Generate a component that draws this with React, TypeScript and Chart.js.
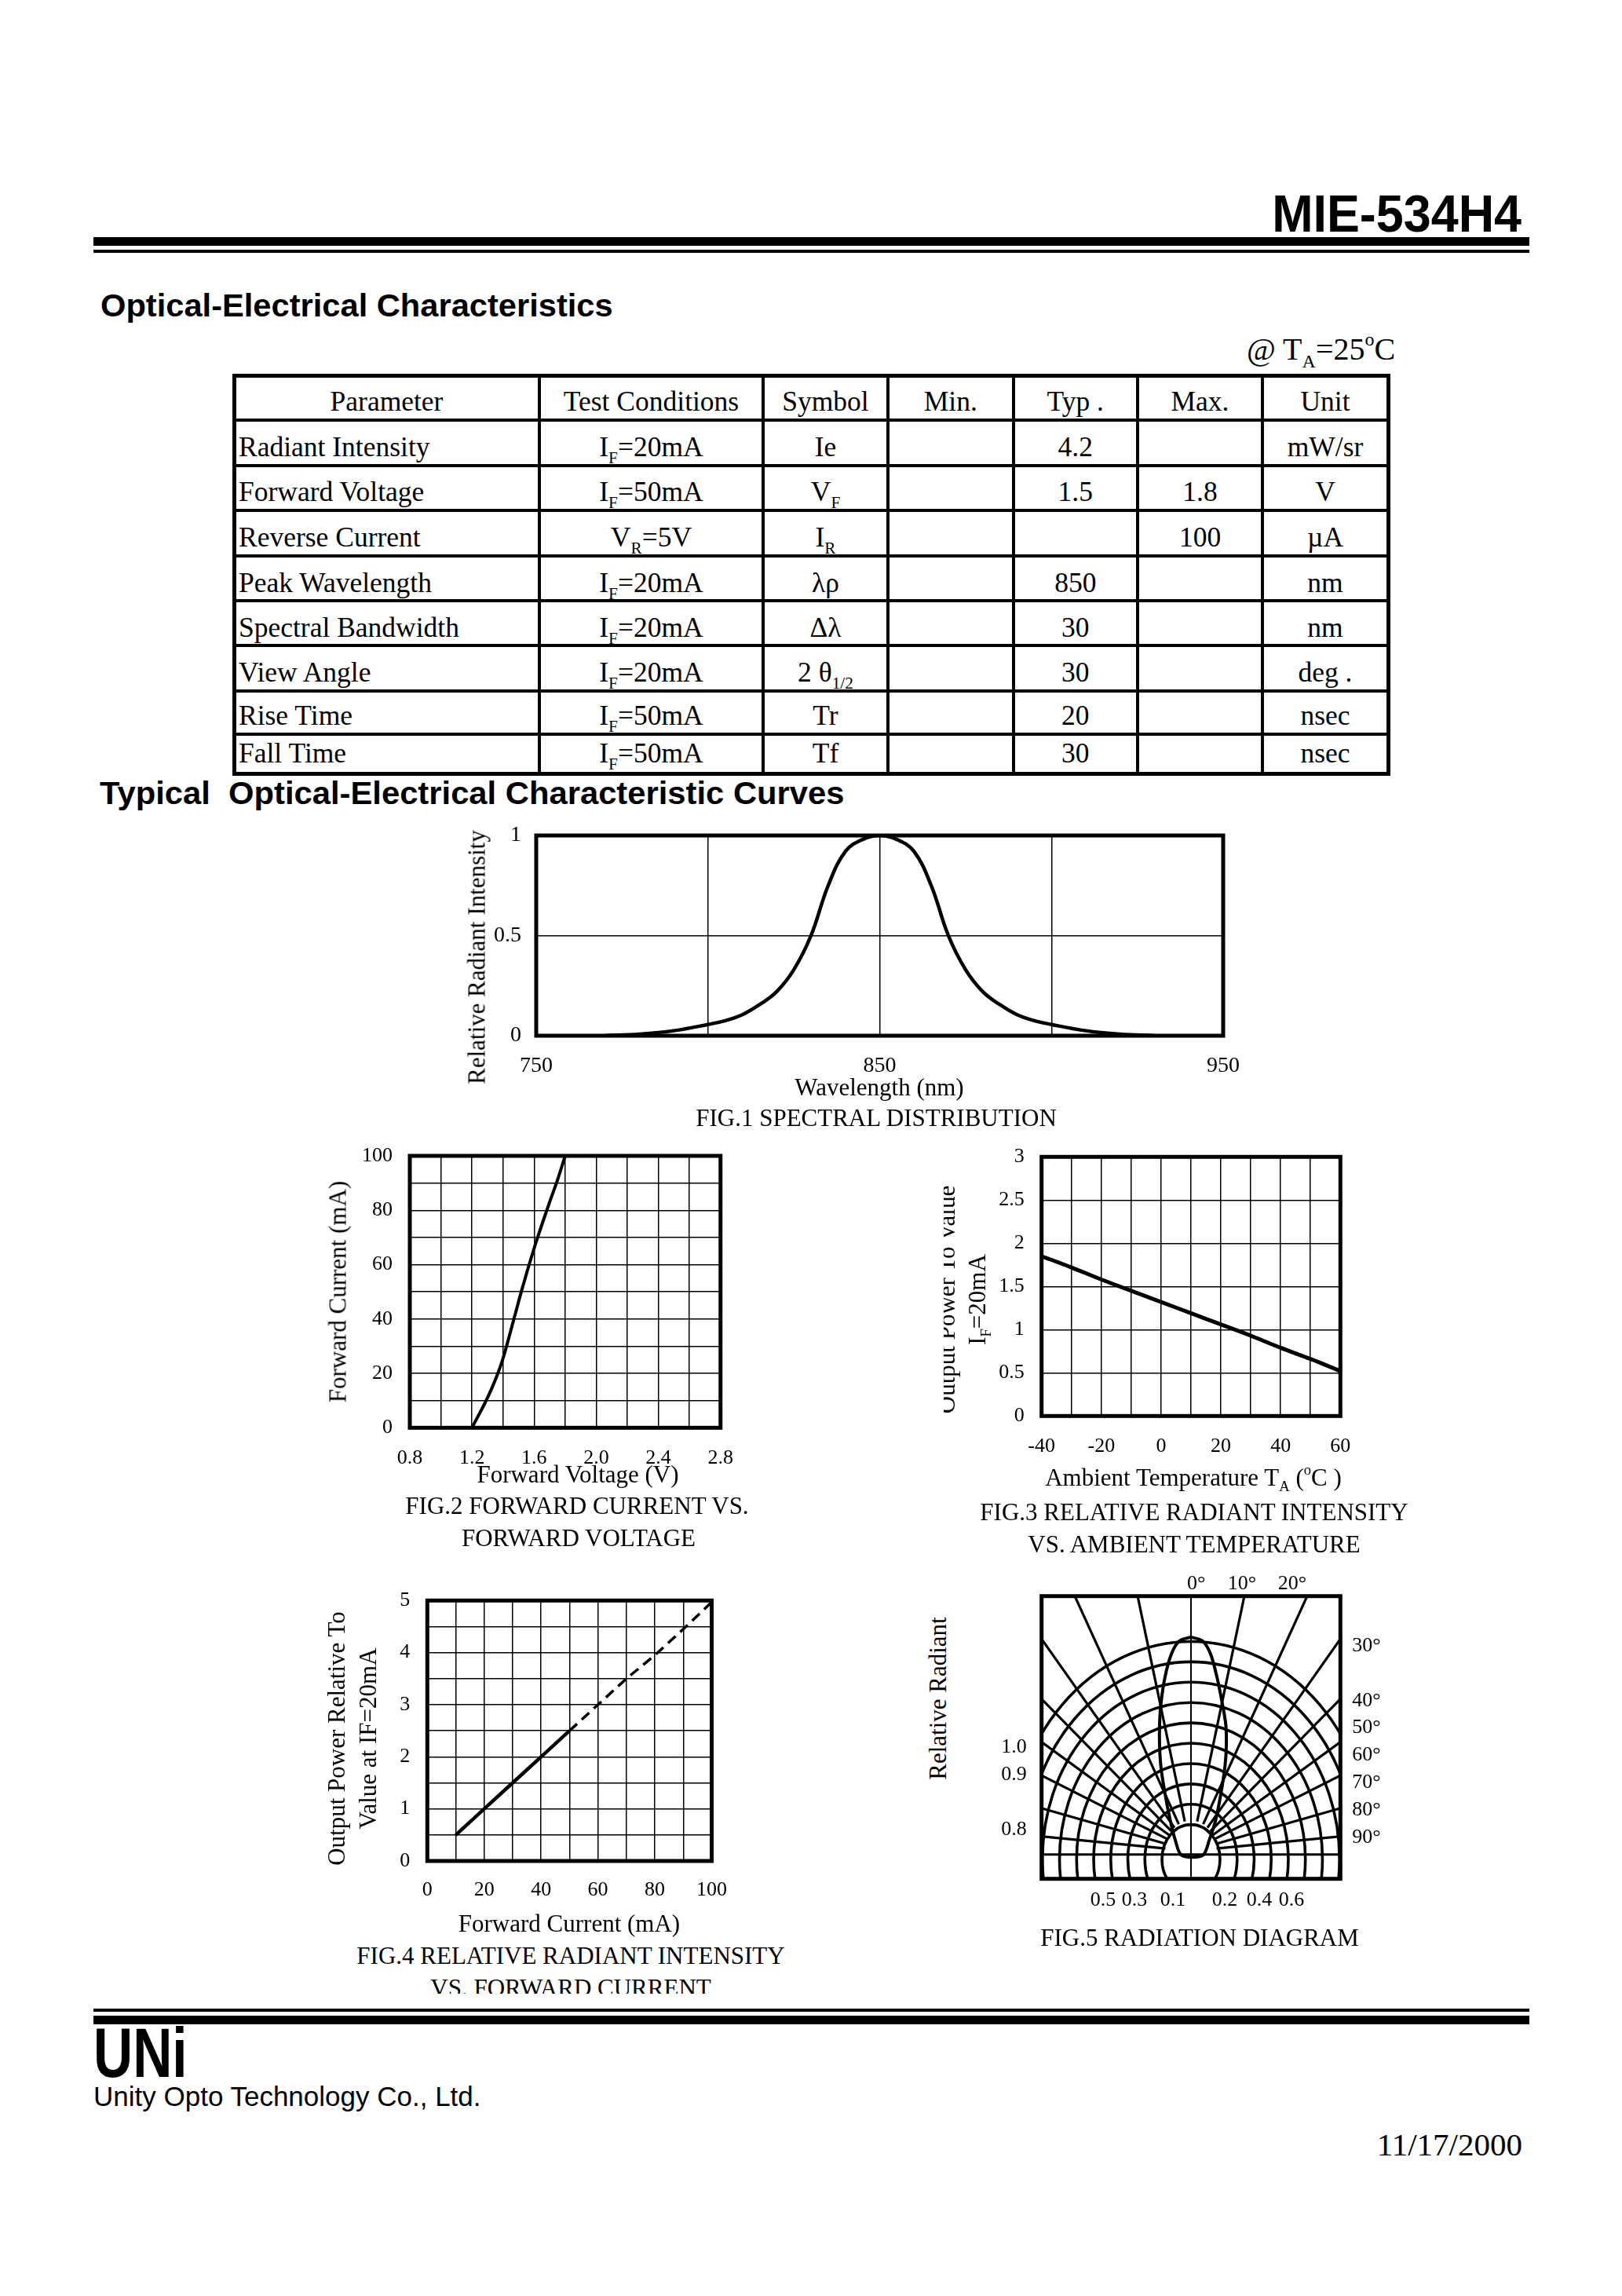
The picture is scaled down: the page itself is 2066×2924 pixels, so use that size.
import React, { useEffect, useRef } from "react";
import { Chart, registerables } from "chart.js";

Chart.register(...registerables);

const SERIF = "'Liberation Serif', 'Times New Roman', Times, serif";
const SANS = "'Liberation Sans', Arial, Helvetica, sans-serif";

// ---------------- Table data ----------------
const tableHeaders = ["Parameter", "Test Conditions", "Symbol", "Min.", "Typ .", "Max.", "Unit"];
const parameters = ["Radiant Intensity", "Forward Voltage", "Reverse Current", "Peak Wavelength", "Spectral Bandwidth", "View Angle", "Rise Time", "Fall Time"];
const testConditions = ["I_{F}=20mA", "I_{F}=50mA", "V_{R}=5V", "I_{F}=20mA", "I_{F}=20mA", "I_{F}=20mA", "I_{F}=50mA", "I_{F}=50mA"];
const symbols = ["Ie", "V_{F}", "I_{R}", "λρ", "Δλ", "2 θ_{1/2}", "Tr", "Tf"];
const minValues = ["", "", "", "", "", "", "", ""];
const typValues = ["4.2", "1.5", "", "850", "30", "30", "20", "30"];
const maxValues = ["", "1.8", "100", "", "", "", "", ""];
const units = ["mW/sr", "V", "µA", "nm", "nm", "deg .", "nsec", "nsec"];

// ---------------- FIG.1 spectral distribution ----------------
const spectrumWavelength = [770, 780, 790, 800, 805, 810, 815, 820, 825, 830, 835, 840, 845, 850, 855, 860, 865, 870, 875, 880, 885, 890, 895, 900, 910, 920, 930];
const spectrumIntensity = [0, 0.008, 0.025, 0.056, 0.075, 0.105, 0.155, 0.22, 0.33, 0.5, 0.75, 0.92, 0.98, 1.0, 0.98, 0.92, 0.75, 0.5, 0.33, 0.22, 0.155, 0.105, 0.075, 0.056, 0.025, 0.008, 0];
const fig1XTicks = [750, 800, 850, 900, 950];
const fig1XLabels = ["750", "", "850", "", "950"];
const fig1YTicks = [0, 0.5, 1];
const fig1YLabels = ["0", "0.5", "1"];

// ---------------- FIG.2 forward current vs forward voltage ----------------
const forwardVoltage = [1.2, 1.3, 1.36, 1.4, 1.47, 1.52, 1.6, 1.64, 1.7, 1.75, 1.8];
const forwardCurrent = [0, 11, 19, 25.5, 40, 50.5, 66, 73, 83, 91, 100];
const fig2XTicks = [0.8, 1.0, 1.2, 1.4, 1.6, 1.8, 2.0, 2.2, 2.4, 2.6, 2.8];
const fig2XLabels = ["0.8", "", "1.2", "", "1.6", "", "2.0", "", "2.4", "", "2.8"];
const fig2YTicks = [0, 10, 20, 30, 40, 50, 60, 70, 80, 90, 100];
const fig2YLabels = ["0", "", "20", "", "40", "", "60", "", "80", "", "100"];

// ---------------- FIG.3 relative intensity vs ambient temperature ----------------
const ambientTemp = [-40, -30, -20, -10, 0, 10, 20, 30, 40, 50, 60];
const relativeOutput = [1.85, 1.72, 1.58, 1.45, 1.32, 1.19, 1.06, 0.93, 0.79, 0.66, 0.52];
const fig3XTicks = [-40, -30, -20, -10, 0, 10, 20, 30, 40, 50, 60];
const fig3XLabels = ["-40", "", "-20", "", "0", "", "20", "", "40", "", "60"];
const fig3YTicks = [0, 0.5, 1, 1.5, 2, 2.5, 3];
const fig3YLabels = ["0", "0.5", "1", "1.5", "2", "2.5", "3"];

// ---------------- FIG.4 relative intensity vs forward current ----------------
const measuredCurrent = [10, 20, 30, 40, 50];
const measuredPower = [0.5, 1.0, 1.5, 2.0, 2.5];
const extrapolatedCurrent = [50, 60, 70, 80, 90, 100];
const extrapolatedPower = [2.5, 3.0, 3.5, 3.95, 4.45, 4.97];
const fig4XTicks = [0, 10, 20, 30, 40, 50, 60, 70, 80, 90, 100];
const fig4XLabels = ["0", "", "20", "", "40", "", "60", "", "80", "", "100"];
const fig4YTicks = [0, 0.5, 1, 1.5, 2, 2.5, 3, 3.5, 4, 4.5, 5];
const fig4YLabels = ["0", "", "1", "", "2", "", "3", "", "4", "", "5"];

// ---------------- FIG.5 radiation diagram ----------------
const lobeX = [0, 0.069, 0.115, 0.153, 0.184, 0.204, 0.207, 0.199, 0.176, 0.146, 0.107, 0.069, -0.054, -0.092, -0.123, -0.153, -0.176, -0.184, -0.184, -0.176, -0.153, -0.115, -0.069, 0];
const lobeY = [1.092, 1.072, 1.008, 0.892, 0.763, 0.66, 0.558, 0.454, 0.326, 0.197, 0.094, 0.019, 0.019, 0.094, 0.197, 0.326, 0.454, 0.558, 0.66, 0.763, 0.892, 1.008, 1.072, 1.092];
const ringRadii = [0.17, 0.27, 0.37, 0.47, 0.57, 0.67, 0.77, 0.87, 0.97, 1.07];
const spokeAngles = [14, 28.5, 40, 49.5, 58.5, 67, 76.5, 85.3];
const fig5BottomTicks = [-0.515, -0.331, -0.106, 0.198, 0.4, 0.588];
const fig5BottomLabels = ["0.5", "0.3", "0.1", "0.2", "0.4", "0.6"];
const fig5LeftTicks = [0.146, 0.416, 0.551];
const fig5LeftLabels = ["0.8", "0.9", "1.0"];
const fig5RightTicks = [1.049, 0.776, 0.645, 0.512, 0.377, 0.242, 0.107];
const fig5RightLabels = ["30°", "40°", "50°", "60°", "70°", "80°", "90°"];
const fig5TopTicks = [0.031, 0.299, 0.593];
const fig5TopLabels = ["0°", "10°", "20°"];

// ---------------- helpers ----------------
type Rect = { x: number; y: number; w: number; h: number };
type Frame = { l: number; t: number; r: number; b: number };

const Sub = ({ children }: any) => (
  <span style={{ fontSize: "0.6em", verticalAlign: "-0.4em", lineHeight: 0 }}>{children}</span>
);
const Sup = ({ children }: any) => (
  <span style={{ fontSize: "0.6em", verticalAlign: "0.75em", lineHeight: 0 }}>{children}</span>
);

function rich(s: string) {
  const out: any[] = [];
  const re = /([_^])\{([^}]*)\}/g;
  let last = 0;
  let m: any;
  let k = 0;
  while ((m = re.exec(s))) {
    if (m.index > last) out.push(s.slice(last, m.index));
    out.push(m[1] === "_" ? <Sub key={k++}>{m[2]}</Sub> : <Sup key={k++}>{m[2]}</Sup>);
    last = re.lastIndex;
  }
  if (last < s.length) out.push(s.slice(last));
  return out;
}

function Txt({ x, y, size, font = SERIF, bold = false, align = "center", rotate = false, sx = 1, children }: any) {
  const tx = align === "left" ? "0%" : align === "right" ? "-100%" : "-50%";
  const origin = align === "left" ? "0% 50%" : align === "right" ? "100% 50%" : "50% 50%";
  const transform = `translate(${tx}, -50%)` + (rotate ? " rotate(-90deg)" : "") + (sx !== 1 ? ` scaleX(${sx})` : "");
  return (
    <div
      style={{
        position: "absolute",
        left: x,
        top: y,
        fontSize: size,
        fontFamily: font,
        fontWeight: bold ? 700 : 400,
        lineHeight: 1,
        whiteSpace: "pre",
        transform,
        transformOrigin: origin,
        color: "#000",
      }}
    >
      {children}
    </div>
  );
}

function Bar({ x, y, w, h }: any) {
  return <div style={{ position: "absolute", left: x, top: y, width: w, height: h, background: "#000" }} />;
}

const framePlugin = (width: number) => ({
  id: "frameBox",
  afterDraw(chart: any) {
    const { ctx, chartArea: a } = chart;
    ctx.save();
    ctx.strokeStyle = "#000";
    ctx.lineWidth = width;
    ctx.strokeRect(a.left, a.top, a.right - a.left, a.bottom - a.top);
    ctx.restore();
  },
});

function axis(position: string, min: number, max: number, values: number[], labels: string[], padding: number, size: number, fit: (a: any) => void, grid = true) {
  return {
    type: "linear",
    position,
    min,
    max,
    afterBuildTicks: (a: any) => {
      a.ticks = values.map((v) => ({ value: v }));
    },
    afterFit: fit,
    ticks: {
      autoSkip: false,
      maxRotation: 0,
      minRotation: 0,
      padding,
      color: "#000",
      font: { family: SERIF, size, lineHeight: 1 },
      callback: (_v: any, i: number) => labels[i],
    },
    grid: { display: grid, color: "#000", lineWidth: 1.5, drawTicks: false },
    border: { display: false },
  };
}

function pts(xs: number[], ys: number[]) {
  return xs.map((x, i) => ({ x, y: ys[i] }));
}

function lineSet(xs: number[], ys: number[], width: number, extra: any = {}) {
  return {
    data: pts(xs, ys),
    showLine: true,
    borderColor: "#000",
    backgroundColor: "#000",
    borderWidth: width,
    pointRadius: 0,
    fill: false,
    ...extra,
  };
}

function baseOptions(rect: Rect, frame: Frame | null, scales: any) {
  return {
    responsive: false,
    maintainAspectRatio: false,
    animation: false,
    devicePixelRatio: 1,
    events: [],
    layout: {
      padding: frame
        ? { left: 0, bottom: 0, top: frame.t - rect.y, right: rect.x + rect.w - frame.r }
        : 0,
    },
    plugins: { legend: { display: false }, tooltip: { enabled: false }, title: { display: false } },
    scales,
  };
}

function ChartCanvas({ rect, make }: { rect: Rect; make: () => any }) {
  const ref = useRef<HTMLCanvasElement | null>(null);
  useEffect(() => {
    if (!ref.current) return;
    const chart = new Chart(ref.current, make());
    return () => chart.destroy();
  }, []);
  return (
    <canvas
      ref={ref}
      width={rect.w}
      height={rect.h}
      style={{ position: "absolute", left: rect.x, top: rect.y, width: rect.w, height: rect.h }}
    />
  );
}

// ---------------- chart layouts ----------------
const R1: Rect = { x: 590, y: 1030, w: 1030, h: 360 };
const F1: Frame = { l: 683, t: 1064, r: 1558, b: 1319 };
const R2: Rect = { x: 430, y: 1430, w: 530, h: 460 };
const F2: Frame = { l: 522, t: 1472, r: 923.4, b: 1818.3 };
const R3: Rect = { x: 1230, y: 1430, w: 530, h: 460 };
const F3: Frame = { l: 1326.7, t: 1473.3, r: 1707.3, b: 1803.3 };
const R4: Rect = { x: 440, y: 2000, w: 510, h: 440 };
const F4: Frame = { l: 544.3, t: 2038.3, r: 910, b: 2370 };
const R5: Rect = { x: 1250, y: 1990, w: 550, h: 460 };
const F5: Frame = { l: 1326.7, t: 2032.7, r: 1707.3, b: 2392.7 };

const fitY = (r: Rect, f: Frame) => (a: any) => {
  a.width = f.l - r.x;
};
const fitX = (r: Rect, f: Frame) => (a: any) => {
  a.height = r.y + r.h - f.b;
};

function makeFig1() {
  return {
    type: "scatter",
    data: {
      datasets: [lineSet(spectrumWavelength, spectrumIntensity, 4.5, { tension: 0.4 })],
    },
    options: baseOptions(R1, F1, {
      x: axis("bottom", 750, 950, fig1XTicks, fig1XLabels, 25, 28, fitX(R1, F1)),
      y: axis("left", 0, 1, fig1YTicks, fig1YLabels, 19, 28, fitY(R1, F1)),
    }),
    plugins: [framePlugin(5)],
  };
}

function makeFig2() {
  return {
    type: "scatter",
    data: { datasets: [lineSet(forwardVoltage, forwardCurrent, 4, { cubicInterpolationMode: "monotone" })] },
    options: baseOptions(R2, F2, {
      x: axis("bottom", 0.8, 2.8, fig2XTicks, fig2XLabels, 26, 26, fitX(R2, F2)),
      y: axis("left", 0, 100, fig2YTicks, fig2YLabels, 22, 26, fitY(R2, F2)),
    }),
    plugins: [framePlugin(5)],
  };
}

function makeFig3() {
  return {
    type: "scatter",
    data: { datasets: [lineSet(ambientTemp, relativeOutput, 5, { cubicInterpolationMode: "monotone" })] },
    options: baseOptions(R3, F3, {
      x: axis("bottom", -40, 60, fig3XTicks, fig3XLabels, 26, 26, fitX(R3, F3)),
      y: axis("left", 0, 3, fig3YTicks, fig3YLabels, 22, 26, fitY(R3, F3)),
    }),
    plugins: [framePlugin(5)],
  };
}

function makeFig4() {
  return {
    type: "scatter",
    data: {
      datasets: [
        lineSet(measuredCurrent, measuredPower, 4.5),
        lineSet(extrapolatedCurrent, extrapolatedPower, 3.5, { borderDash: [13, 8] }),
      ],
    },
    options: baseOptions(R4, F4, {
      x: axis("bottom", 0, 100, fig4XTicks, fig4XLabels, 24, 26, fitX(R4, F4)),
      y: axis("left", 0, 5, fig4YTicks, fig4YLabels, 22, 26, fitY(R4, F4)),
    }),
    plugins: [framePlugin(5)],
  };
}

const polarGridPlugin = {
  id: "polarGrid",
  beforeDatasetsDraw(chart: any) {
    const { ctx, chartArea: a, scales } = chart;
    const xs = scales.x;
    const ys = scales.y;
    const px = (v: number) => xs.getPixelForValue(v);
    const py = (v: number) => ys.getPixelForValue(v);
    const cx = px(0);
    const cy = py(0);
    const ux = px(1) - cx;
    const uy = cy - py(1);
    ctx.save();
    ctx.beginPath();
    ctx.rect(a.left, a.top, a.right - a.left, a.bottom - a.top);
    ctx.clip();
    ctx.strokeStyle = "#000";
    ctx.lineWidth = 3.6;
    for (const r of ringRadii) {
      ctx.beginPath();
      ctx.ellipse(cx, cy, r * ux, r * uy, 0, 0, Math.PI * 2);
      ctx.stroke();
    }
    const oy = 0.04;
    const start = 0.15;
    ctx.lineWidth = 3.2;
    for (const deg of spokeAngles) {
      const t = (deg * Math.PI) / 180;
      for (const side of [-1, 1]) {
        ctx.beginPath();
        ctx.moveTo(px(side * Math.sin(t) * start), py(oy + Math.cos(t) * start));
        ctx.lineTo(px(side * Math.sin(t) * 3), py(oy + Math.cos(t) * 3));
        ctx.stroke();
      }
    }
    ctx.lineWidth = 2;
    ctx.beginPath();
    ctx.moveTo(cx, a.top);
    ctx.lineTo(cx, a.bottom);
    ctx.stroke();
    ctx.lineWidth = 3.2;
    ctx.beginPath();
    ctx.moveTo(a.left, py(0.023));
    ctx.lineTo(a.right, py(0.023));
    ctx.stroke();
    ctx.restore();
  },
};

function makeFig5() {
  const lx = (a: any) => {
    a.width = F5.l - R5.x;
  };
  const rx = (a: any) => {
    a.width = R5.x + R5.w - F5.r;
  };
  const tx = (a: any) => {
    a.height = F5.t - R5.y;
  };
  const bx = (a: any) => {
    a.height = R5.y + R5.h - F5.b;
  };
  const xMin = -0.875;
  const xMax = 0.875;
  const yMin = -0.0965;
  const yMax = 1.293;
  return {
    type: "scatter",
    data: { datasets: [lineSet(lobeX, lobeY, 4, { tension: 0.3 })] },
    options: baseOptions(R5, null, {
      x: axis("bottom", xMin, xMax, fig5BottomTicks, fig5BottomLabels, 14, 26, bx, false),
      x2: { ...axis("top", xMin, xMax, fig5TopTicks, fig5TopLabels, 3, 26, tx, false), axis: "x" },
      y: axis("left", yMin, yMax, fig5LeftTicks, fig5LeftLabels, 19, 26, lx, false),
      y2: { ...axis("right", yMin, yMax, fig5RightTicks, fig5RightLabels, 15, 26, rx, false), axis: "y" },
    }),
    plugins: [polarGridPlugin, framePlugin(5)],
  };
}

// ---------------- table layout ----------------
const COLS = [298, 687, 972, 1131, 1290.5, 1449, 1608, 1768];
const ROWS = [478, 534.7, 593.1, 649.8, 707.6, 765, 822.4, 880.1, 935.1, 985];
const TEXT_Y = [511.5, 570, 627, 685, 742.6, 800, 857, 912, 960];

function Table() {
  const els: any[] = [];
  const x0 = COLS[0];
  const x1 = COLS[COLS.length - 1];
  const y0 = ROWS[0];
  const y1 = ROWS[ROWS.length - 1];
  ROWS.forEach((y, i) => {
    const outer = i === 0 || i === ROWS.length - 1;
    const t = outer ? 5 : 4;
    els.push(<Bar key={`h${i}`} x={x0 - 2.5} y={y - t / 2} w={x1 - x0 + 5} h={t} />);
  });
  COLS.forEach((x, i) => {
    const outer = i === 0 || i === COLS.length - 1;
    const t = outer ? 5 : 4;
    els.push(<Bar key={`v${i}`} x={x - t / 2} y={y0 - 2.5} w={t} h={y1 - y0 + 5} />);
  });
  const colCenter = (c: number) => (COLS[c] + COLS[c + 1]) / 2;
  tableHeaders.forEach((h, c) => {
    els.push(
      <Txt key={`hd${c}`} x={colCenter(c)} y={TEXT_Y[0]} size={35.5}>
        {h}
      </Txt>
    );
  });
  const columns = [testConditions, symbols, minValues, typValues, maxValues, units];
  parameters.forEach((p, r) => {
    const y = TEXT_Y[r + 1];
    els.push(
      <Txt key={`p${r}`} x={304} y={y} size={35.5} align="left">
        {p}
      </Txt>
    );
    columns.forEach((col, ci) => {
      if (!col[r]) return;
      els.push(
        <Txt key={`c${r}-${ci}`} x={colCenter(ci + 1)} y={y} size={35.5}>
          {rich(col[r])}
        </Txt>
      );
    });
  });
  return <>{els}</>;
}

export default function App() {
  return (
    <div
      style={{
        position: "absolute",
        left: 0,
        top: 0,
        width: 2066,
        height: 2924,
        overflow: "hidden",
        background: "#fff",
        color: "#000",
      }}
    >
      {/* header */}
      <Txt x={1938} y={271} size={67} font={SANS} bold align="right" sx={0.938}>
        MIE-534H4
      </Txt>
      <Bar x={119} y={302} w={1829} h={11} />
      <Bar x={119} y={318} w={1829} h={4} />
      <Txt x={128} y={389} size={40} font={SANS} bold align="left" sx={1.041}>
        Optical-Electrical Characteristics
      </Txt>
      <Txt x={1588} y={445} size={40} align="left">
        {rich("@ T_{A}=25^{o}C")}
      </Txt>

      <Table />

      <Txt x={127} y={1010} size={40} font={SANS} bold align="left" sx={1.044}>
        {"Typical  Optical-Electrical Characteristic Curves"}
      </Txt>

      {/* charts */}
      <ChartCanvas rect={R1} make={makeFig1} />
      <ChartCanvas rect={R2} make={makeFig2} />
      <ChartCanvas rect={R3} make={makeFig3} />
      <ChartCanvas rect={R4} make={makeFig4} />
      <ChartCanvas rect={R5} make={makeFig5} />

      {/* FIG.1 texts */}
      <Txt x={607} y={1219} size={31} rotate>
        Relative Radiant Intensity
      </Txt>
      <Txt x={1120} y={1384} size={31}>
        Wavelength (nm)
      </Txt>
      <Txt x={1116} y={1423} size={31}>
        FIG.1 SPECTRAL DISTRIBUTION
      </Txt>

      {/* FIG.2 texts */}
      <Txt x={430} y={1645} size={31} rotate>
        Forward Current (mA)
      </Txt>
      <Txt x={736} y={1877} size={31}>
        Forward Voltage (V)
      </Txt>
      <Txt x={735} y={1917} size={31}>
        FIG.2 FORWARD CURRENT VS.
      </Txt>
      <Txt x={737} y={1958} size={31}>
        FORWARD VOLTAGE
      </Txt>

      {/* FIG.3 texts */}
      <div style={{ position: "absolute", left: 1202, top: 1400, width: 80, height: 520, overflow: "hidden" }}>
        <Txt x={1205 - 1202} y={1655 - 1400} size={31} rotate>
          Output Power To Value
        </Txt>
      </div>
      <Txt x={1244} y={1655} size={31} rotate>
        {rich("I_{F}=20mA")}
      </Txt>
      <Txt x={1520} y={1881} size={31}>
        {rich("Ambient Temperature T_{A} (^{o}C )")}
      </Txt>
      <Txt x={1521} y={1925} size={31}>
        FIG.3 RELATIVE RADIANT INTENSITY
      </Txt>
      <Txt x={1521} y={1966} size={31}>
        VS. AMBIENT TEMPERATURE
      </Txt>

      {/* FIG.4 texts */}
      <Txt x={427.5} y={2214} size={31} rotate>
        Output Power Relative To
      </Txt>
      <Txt x={467.5} y={2214} size={31} rotate>
        Value at IF=20mA
      </Txt>
      <Txt x={725} y={2449} size={31}>
        Forward Current (mA)
      </Txt>
      <Txt x={727} y={2490} size={31}>
        FIG.4 RELATIVE RADIANT INTENSITY
      </Txt>
      <div style={{ position: "absolute", left: 400, top: 2505, width: 700, height: 34, overflow: "hidden" }}>
        <Txt x={727 - 400} y={2531 - 2505} size={31}>
          VS. FORWARD CURRENT
        </Txt>
      </div>

      {/* FIG.5 texts */}
      <Txt x={1194} y={2163} size={31} rotate>
        Relative Radiant
      </Txt>
      <Txt x={1528} y={2467} size={31}>
        FIG.5 RADIATION DIAGRAM
      </Txt>

      {/* footer */}
      <Bar x={119} y={2557.5} w={1829} h={4} />
      <Bar x={119} y={2567} w={1829} h={11} />
      <Txt x={119} y={2614} size={89} font={SANS} bold align="left" sx={0.78}>
        UNi
      </Txt>
      <Txt x={119} y={2669} size={35} font={SANS} align="left">
        Unity Opto Technology Co., Ltd.
      </Txt>
      <Txt x={1939} y={2731} size={41} align="right">
        11/17/2000
      </Txt>
    </div>
  );
}
